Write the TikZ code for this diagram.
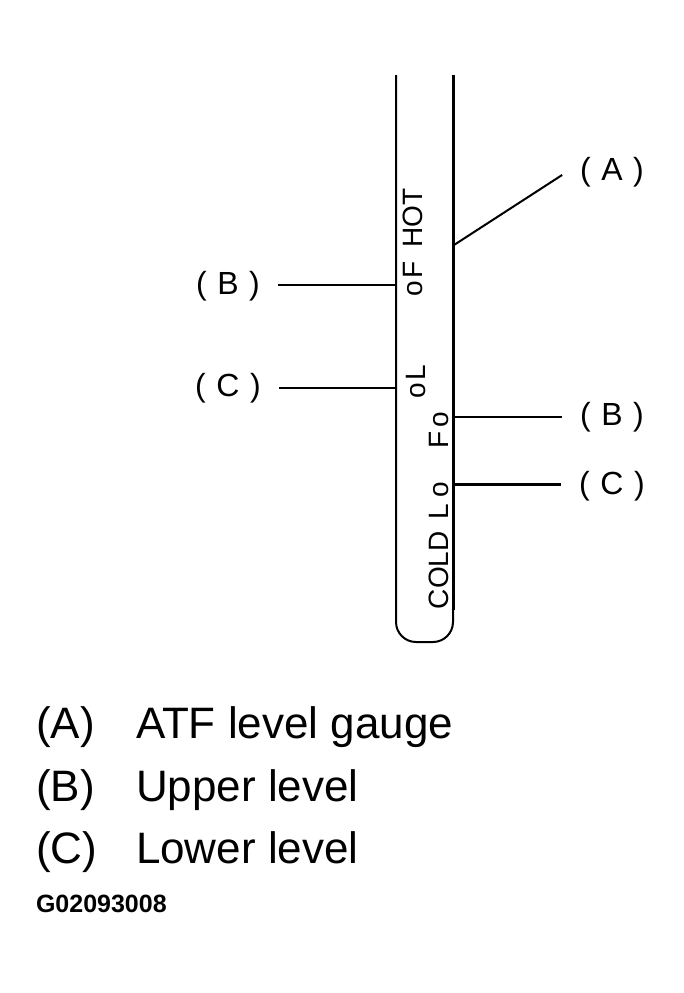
\documentclass[tikz,border=0pt]{standalone}
\usepackage{fontspec}
\setmainfont{Liberation Sans}
\usetikzlibrary{calc}

\begin{document}
\begin{tikzpicture}[x=1pt,y=-1pt,line width=2pt,
        tag/.style={font=\fontsize{32}{32}\selectfont,inner xsep=17pt,inner ysep=0pt},
        gaugetext/.style={rotate=90,anchor=base west,inner sep=0pt,font=\fontsize{28}{28}\selectfont},
        legend/.style={anchor=base west,inner sep=0pt,font=\fontsize{44}{44}\selectfont}]
            \useasboundingbox (0,0) rectangle (683,993);
            \draw[rounded corners=20pt] (396,75)--(396,642)--(453,642)--(453,600);
            \draw[line width=3pt] (453,75)--(453,610);
            \coordinate (gA) at (454,245);
            \coordinate (gBl) at (396,285);
            \coordinate (gCl) at (396,388);
            \coordinate (gBr) at (454,417);
            \coordinate (gCr) at (454,484);
            \node[gaugetext] (hot) at (422,297) {o\hspace{2pt}F\hspace{14pt}HOT};
            \node[gaugetext] (low) at (425,399) {o\hspace{2pt}L};
            \node[gaugetext] (full) at (448,449) {F\hspace{3pt}o};
            \node[gaugetext] (cold) at (448,610) {COLD\hspace{12pt}L\hspace{6pt}o};
            \node[tag] (tagA) at (612,172) {(\hspace{0.33em}A\hspace{0.33em})};
            \node[tag] (tagBl) at (228,286) {(\hspace{0.33em}B\hspace{0.33em})};
            \node[tag] (tagCl) at (228,388) {(\hspace{0.33em}C\hspace{0.33em})};
            \node[tag] (tagBr) at (612,417) {(\hspace{0.33em}B\hspace{0.33em})};
            \node[tag] (tagCr) at (612,486) {(\hspace{0.33em}C\hspace{0.33em})};
            \draw (gA)--($(tagA.west)+(0,3)$);
            \draw (tagBl.east|-gBl)--(gBl);
            \draw (tagCl.east|-gCl)--(gCl);
            \draw (gBr)--(tagBr.west|-gBr);
            \draw[line width=3pt] (gCr)--(tagCr.west|-gCr);
            \node[legend] (keyA) at (35,738) {(A)};
            \node[legend] (itemA) at (135,738) {ATF level gauge};
            \node[legend] (keyB) at (35,801) {(B)};
            \node[legend] (itemB) at (135,801) {Upper level};
            \node[legend] (keyC) at (35,863) {(C)};
            \node[legend] (itemC) at (135,863) {Lower level};
            \node[anchor=base west,inner sep=0pt,font=\bfseries\fontsize{25}{25}\selectfont] (code) at (35,912) {G02093008};
\end{tikzpicture}
\end{document}
